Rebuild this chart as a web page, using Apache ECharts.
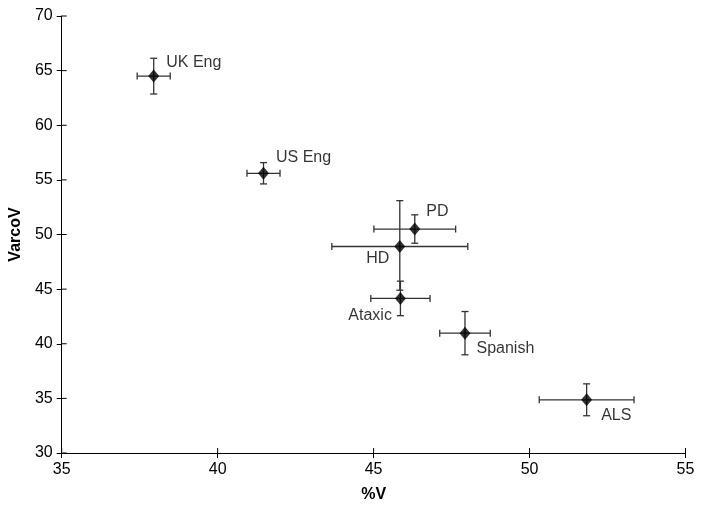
<!DOCTYPE html>
<html>
<head>
<meta charset="utf-8">
<script src="https://cdn.jsdelivr.net/npm/echarts@6/dist/echarts.min.js"></script>
<style>html,body{margin:0;padding:0;background:#fff}#c{width:704px;height:518px}</style>
</head>
<body>
<div id="c"></div>
<script>
var names = ['UK Eng', 'US Eng', 'PD', 'HD', 'Ataxic', 'Spanish', 'ALS'];
var pctV = [37.95, 41.47, 46.32, 45.84, 45.86, 47.93, 51.83];
var varcoV = [64.5, 55.6, 50.5, 48.9, 44.15, 40.97, 34.87];
var pctVErr = [0.53, 0.53, 1.31, 2.18, 0.95, 0.81, 1.52];
var varcoVErrUp = [1.63, 0.98, 1.3, 4.2, 1.58, 1.98, 1.46];
var varcoVErrDown = [1.64, 0.97, 1.3, 4.0, 1.58, 1.98, 1.46];
var xTicks = [35, 40, 45, 50, 55];
var yTicks = [30, 35, 40, 45, 50, 55, 60, 65, 70];

var labelPos = {
  'UK Eng': {pos: 'right', off: [2, -13]},
  'US Eng': {pos: 'right', off: [2, -16]},
  'PD': {pos: 'right', off: [1, -17]},
  'HD': {pos: 'left', off: [0, 12]},
  'Ataxic': {pos: 'left', off: [2, 17]},
  'Spanish': {pos: 'right', off: [1, 15]},
  'ALS': {pos: 'right', off: [4, 16]}
};

var pts = names.map(function (n, i) {
  var lp = labelPos[n];
  return {
    value: [pctV[i], varcoV[i]],
    name: n,
    label: {show: true, position: lp.pos, offset: lp.off, formatter: n}
  };
});
var errData = names.map(function (n, i) {
  return [pctV[i], varcoV[i], pctV[i] - pctVErr[i], pctV[i] + pctVErr[i], varcoV[i] - varcoVErrDown[i], varcoV[i] + varcoVErrUp[i]];
});
// inner half of the crossing tick marks: [value, axis(0 = x, 1 = y)]
var innerTicks = xTicks.map(function (v) { return [v, 0]; })
  .concat(yTicks.map(function (v) { return [v, 1]; }));

var FONT = 'Liberation Sans, Arial, sans-serif';
var chart = echarts.init(document.getElementById('c'));
var tickStyle = {color: '#000', width: 1};
chart.setOption({
  animation: false,
  textStyle: {fontFamily: FONT},
  grid: {left: 61.5, right: 18.5, top: 16, bottom: 65},
  xAxis: {
    type: 'value', min: 35, max: 55, interval: 5,
    name: '%V', nameLocation: 'middle', nameGap: 34,
    nameTextStyle: {fontSize: 16, fontWeight: 'bold', color: '#000', fontFamily: FONT},
    axisLine: {show: true, onZero: false, lineStyle: {color: '#000', width: 1}},
    splitLine: {show: false},
    axisTick: {show: true, inside: false, length: 5, lineStyle: tickStyle},
    axisLabel: {fontSize: 16, color: '#000', margin: 9, fontFamily: FONT}
  },
  yAxis: {
    type: 'value', min: 30, max: 70, interval: 5,
    name: 'VarcoV', nameLocation: 'middle', nameGap: 30,
    nameTextStyle: {fontSize: 16, fontWeight: 'bold', color: '#000', fontFamily: FONT},
    axisLine: {show: true, onZero: false, lineStyle: {color: '#000', width: 1}},
    splitLine: {show: false},
    axisTick: {show: true, inside: false, length: 5, lineStyle: tickStyle},
    axisLabel: {fontSize: 16, color: '#000', margin: 9, fontFamily: FONT}
  },
  series: [
    {
      type: 'custom',
      data: innerTicks,
      z: 1,
      silent: true,
      renderItem: function (params, api) {
        var v = api.value(0), ax = api.value(1);
        var p, shape;
        if (ax === 0) {
          p = api.coord([v, yTicks[0]]);
          shape = {x1: p[0], y1: p[1], x2: p[0], y2: p[1] - 5};
        } else {
          p = api.coord([xTicks[0], v]);
          shape = {x1: p[0], y1: p[1], x2: p[0] + 5, y2: p[1]};
        }
        return {type: 'line', shape: shape, style: {stroke: '#000', lineWidth: 1}};
      }
    },
    {
      type: 'custom',
      data: errData,
      z: 2,
      renderItem: function (params, api) {
        var c = api.coord([api.value(0), api.value(1)]);
        var xl = api.coord([api.value(2), api.value(1)]);
        var xr = api.coord([api.value(3), api.value(1)]);
        var yb = api.coord([api.value(0), api.value(4)]);
        var yt = api.coord([api.value(0), api.value(5)]);
        var cap = 3.5;
        var st = {stroke: '#333', lineWidth: 1.3, fill: null};
        function ln(x1, y1, x2, y2) {
          return {type: 'line', shape: {x1: x1, y1: y1, x2: x2, y2: y2}, style: st};
        }
        return {
          type: 'group',
          children: [
            ln(xl[0], c[1], xr[0], c[1]),
            ln(xl[0], c[1] - cap, xl[0], c[1] + cap),
            ln(xr[0], c[1] - cap, xr[0], c[1] + cap),
            ln(c[0], yb[1], c[0], yt[1]),
            ln(c[0] - cap, yb[1], c[0] + cap, yb[1]),
            ln(c[0] - cap, yt[1], c[0] + cap, yt[1])
          ]
        };
      }
    },
    {
      type: 'scatter',
      symbol: 'diamond',
      symbolSize: [11, 13],
      itemStyle: {color: '#000'},
      z: 3,
      label: {fontSize: 16, color: '#000', fontFamily: FONT},
      data: pts
    }
  ]
});
</script>
</body>
</html>
